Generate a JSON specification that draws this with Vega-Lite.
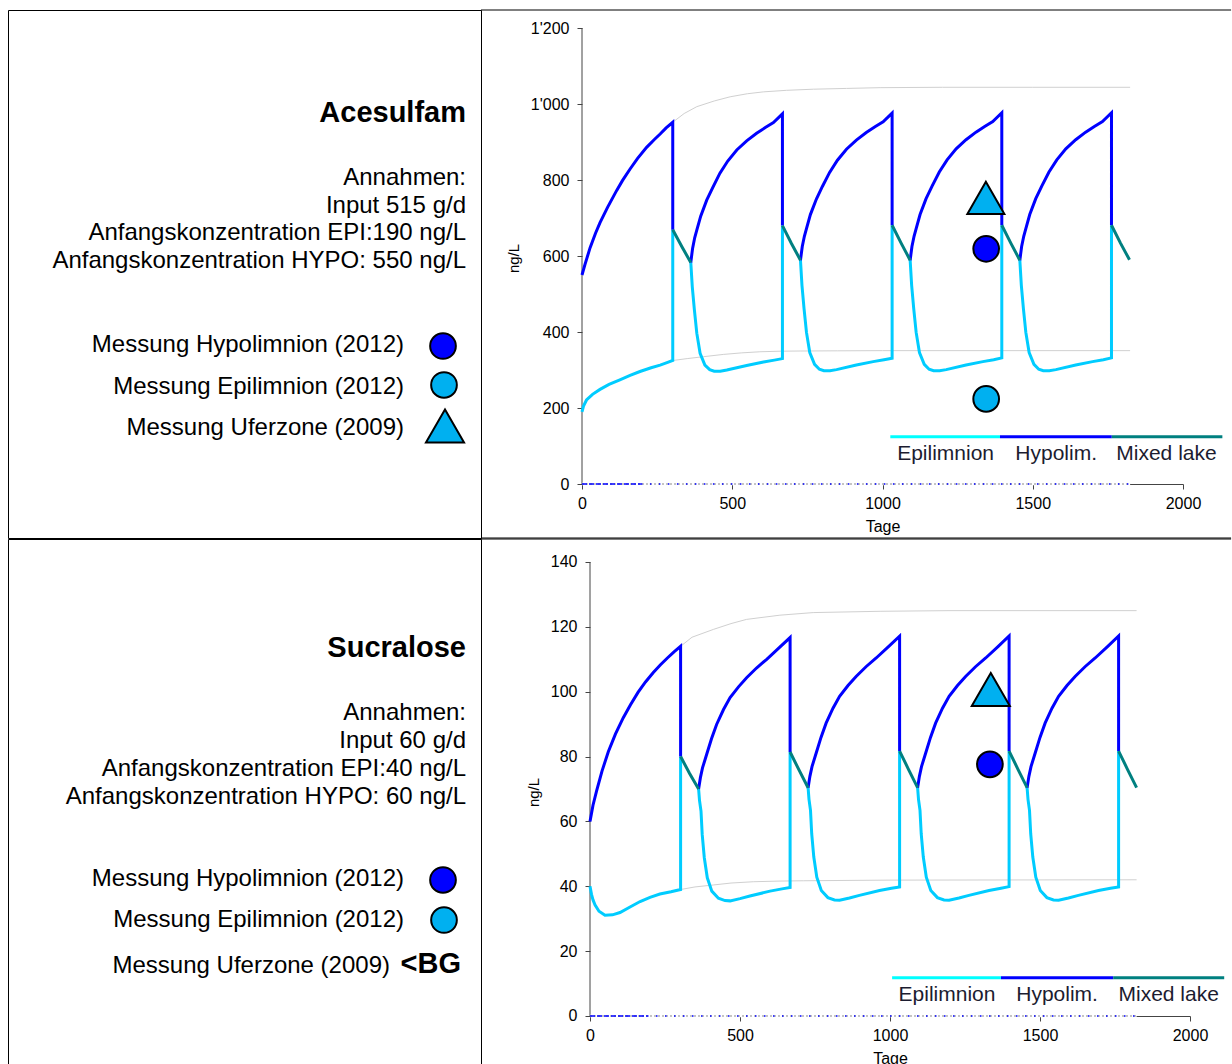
{
  "$schema": "https://vega.github.io/schema/vega-lite/v6.json",
  "padding": {"left": 7, "top": 9, "right": 0, "bottom": 0},
  "background": "white",
  "config": {"view": {"stroke": null}, "font": "Liberation Sans"},
  "spacing": -2,
  "datasets": {
    "ace": [
      {"s":"Epilimnion","g":1,"x":0,"y":190},{"s":"Epilimnion","g":1,"x":5,"y":205},{"s":"Epilimnion","g":1,"x":15,"y":221},{"s":"Epilimnion","g":1,"x":35,"y":236},{"s":"Epilimnion","g":1,"x":60,"y":249},{"s":"Epilimnion","g":1,"x":90,"y":262},{"s":"Epilimnion","g":1,"x":126,"y":274},{"s":"Epilimnion","g":1,"x":160,"y":286},{"s":"Epilimnion","g":1,"x":193,"y":296},{"s":"Epilimnion","g":1,"x":230,"y":306},{"s":"Epilimnion","g":1,"x":260,"y":313},{"s":"Epilimnion","g":1,"x":285,"y":320},{"s":"Epilimnion","g":1,"x":302,"y":325},{"s":"Epilimnion","g":1,"x":302,"y":669},
      {"s":"Epilimnion","g":2,"x":362,"y":583},{"s":"Epilimnion","g":2,"x":367,"y":519},{"s":"Epilimnion","g":2,"x":374,"y":458},{"s":"Epilimnion","g":2,"x":382,"y":397},{"s":"Epilimnion","g":2,"x":393,"y":344},{"s":"Epilimnion","g":2,"x":409,"y":313},{"s":"Epilimnion","g":2,"x":425,"y":301},{"s":"Epilimnion","g":2,"x":440,"y":297},{"s":"Epilimnion","g":2,"x":460,"y":297},{"s":"Epilimnion","g":2,"x":482,"y":300},{"s":"Epilimnion","g":2,"x":548,"y":312},{"s":"Epilimnion","g":2,"x":604,"y":321},{"s":"Epilimnion","g":2,"x":640,"y":326},{"s":"Epilimnion","g":2,"x":667,"y":330},{"s":"Epilimnion","g":2,"x":667,"y":680},
      {"s":"Epilimnion","g":3,"x":727,"y":589},{"s":"Epilimnion","g":3,"x":732,"y":523},{"s":"Epilimnion","g":3,"x":739,"y":461},{"s":"Epilimnion","g":3,"x":747,"y":399},{"s":"Epilimnion","g":3,"x":758,"y":346},{"s":"Epilimnion","g":3,"x":774,"y":315},{"s":"Epilimnion","g":3,"x":790,"y":302},{"s":"Epilimnion","g":3,"x":805,"y":298},{"s":"Epilimnion","g":3,"x":825,"y":298},{"s":"Epilimnion","g":3,"x":847,"y":301},{"s":"Epilimnion","g":3,"x":913,"y":313},{"s":"Epilimnion","g":3,"x":969,"y":322},{"s":"Epilimnion","g":3,"x":1005,"y":327},{"s":"Epilimnion","g":3,"x":1032,"y":331},{"s":"Epilimnion","g":3,"x":1032,"y":681},
      {"s":"Epilimnion","g":4,"x":1092,"y":589},{"s":"Epilimnion","g":4,"x":1097,"y":523},{"s":"Epilimnion","g":4,"x":1104,"y":461},{"s":"Epilimnion","g":4,"x":1112,"y":399},{"s":"Epilimnion","g":4,"x":1123,"y":346},{"s":"Epilimnion","g":4,"x":1139,"y":315},{"s":"Epilimnion","g":4,"x":1155,"y":302},{"s":"Epilimnion","g":4,"x":1170,"y":298},{"s":"Epilimnion","g":4,"x":1190,"y":298},{"s":"Epilimnion","g":4,"x":1212,"y":301},{"s":"Epilimnion","g":4,"x":1278,"y":313},{"s":"Epilimnion","g":4,"x":1334,"y":322},{"s":"Epilimnion","g":4,"x":1370,"y":327},{"s":"Epilimnion","g":4,"x":1397,"y":332},{"s":"Epilimnion","g":4,"x":1397,"y":681},
      {"s":"Epilimnion","g":5,"x":1457,"y":589},{"s":"Epilimnion","g":5,"x":1462,"y":523},{"s":"Epilimnion","g":5,"x":1469,"y":461},{"s":"Epilimnion","g":5,"x":1477,"y":399},{"s":"Epilimnion","g":5,"x":1488,"y":346},{"s":"Epilimnion","g":5,"x":1504,"y":315},{"s":"Epilimnion","g":5,"x":1520,"y":302},{"s":"Epilimnion","g":5,"x":1535,"y":298},{"s":"Epilimnion","g":5,"x":1555,"y":298},{"s":"Epilimnion","g":5,"x":1577,"y":301},{"s":"Epilimnion","g":5,"x":1643,"y":313},{"s":"Epilimnion","g":5,"x":1699,"y":322},{"s":"Epilimnion","g":5,"x":1735,"y":327},{"s":"Epilimnion","g":5,"x":1762,"y":332},{"s":"Epilimnion","g":5,"x":1762,"y":681},
      {"s":"Hypolim.","g":1,"x":0,"y":550},{"s":"Hypolim.","g":1,"x":10,"y":578},{"s":"Hypolim.","g":1,"x":27,"y":622},{"s":"Hypolim.","g":1,"x":45,"y":660},{"s":"Hypolim.","g":1,"x":60,"y":688},{"s":"Hypolim.","g":1,"x":85,"y":728},{"s":"Hypolim.","g":1,"x":115,"y":772},{"s":"Hypolim.","g":1,"x":135,"y":799},{"s":"Hypolim.","g":1,"x":160,"y":829},{"s":"Hypolim.","g":1,"x":185,"y":857},{"s":"Hypolim.","g":1,"x":215,"y":886},{"s":"Hypolim.","g":1,"x":240,"y":906},{"s":"Hypolim.","g":1,"x":260,"y":921},{"s":"Hypolim.","g":1,"x":280,"y":937},{"s":"Hypolim.","g":1,"x":302,"y":952},{"s":"Hypolim.","g":1,"x":302,"y":669},
      {"s":"Hypolim.","g":2,"x":362,"y":583},{"s":"Hypolim.","g":2,"x":368,"y":620},{"s":"Hypolim.","g":2,"x":375,"y":648},{"s":"Hypolim.","g":2,"x":382,"y":668},{"s":"Hypolim.","g":2,"x":395,"y":705},{"s":"Hypolim.","g":2,"x":415,"y":747},{"s":"Hypolim.","g":2,"x":435,"y":780},{"s":"Hypolim.","g":2,"x":459,"y":818},{"s":"Hypolim.","g":2,"x":485,"y":850},{"s":"Hypolim.","g":2,"x":515,"y":879},{"s":"Hypolim.","g":2,"x":548,"y":903},{"s":"Hypolim.","g":2,"x":581,"y":923},{"s":"Hypolim.","g":2,"x":610,"y":938},{"s":"Hypolim.","g":2,"x":637,"y":951},{"s":"Hypolim.","g":2,"x":667,"y":974},{"s":"Hypolim.","g":2,"x":667,"y":680},
      {"s":"Hypolim.","g":3,"x":727,"y":589},{"s":"Hypolim.","g":3,"x":733,"y":625},{"s":"Hypolim.","g":3,"x":740,"y":652},{"s":"Hypolim.","g":3,"x":747,"y":672},{"s":"Hypolim.","g":3,"x":760,"y":709},{"s":"Hypolim.","g":3,"x":780,"y":750},{"s":"Hypolim.","g":3,"x":800,"y":783},{"s":"Hypolim.","g":3,"x":824,"y":820},{"s":"Hypolim.","g":3,"x":850,"y":852},{"s":"Hypolim.","g":3,"x":880,"y":881},{"s":"Hypolim.","g":3,"x":913,"y":905},{"s":"Hypolim.","g":3,"x":946,"y":925},{"s":"Hypolim.","g":3,"x":975,"y":940},{"s":"Hypolim.","g":3,"x":1002,"y":953},{"s":"Hypolim.","g":3,"x":1032,"y":976},{"s":"Hypolim.","g":3,"x":1032,"y":681},
      {"s":"Hypolim.","g":4,"x":1092,"y":589},{"s":"Hypolim.","g":4,"x":1098,"y":625},{"s":"Hypolim.","g":4,"x":1105,"y":652},{"s":"Hypolim.","g":4,"x":1112,"y":672},{"s":"Hypolim.","g":4,"x":1125,"y":709},{"s":"Hypolim.","g":4,"x":1145,"y":751},{"s":"Hypolim.","g":4,"x":1165,"y":784},{"s":"Hypolim.","g":4,"x":1189,"y":821},{"s":"Hypolim.","g":4,"x":1215,"y":853},{"s":"Hypolim.","g":4,"x":1245,"y":882},{"s":"Hypolim.","g":4,"x":1278,"y":906},{"s":"Hypolim.","g":4,"x":1311,"y":926},{"s":"Hypolim.","g":4,"x":1340,"y":941},{"s":"Hypolim.","g":4,"x":1367,"y":954},{"s":"Hypolim.","g":4,"x":1397,"y":977},{"s":"Hypolim.","g":4,"x":1397,"y":681},
      {"s":"Hypolim.","g":5,"x":1457,"y":589},{"s":"Hypolim.","g":5,"x":1463,"y":625},{"s":"Hypolim.","g":5,"x":1470,"y":652},{"s":"Hypolim.","g":5,"x":1477,"y":672},{"s":"Hypolim.","g":5,"x":1490,"y":709},{"s":"Hypolim.","g":5,"x":1510,"y":751},{"s":"Hypolim.","g":5,"x":1530,"y":784},{"s":"Hypolim.","g":5,"x":1554,"y":821},{"s":"Hypolim.","g":5,"x":1580,"y":853},{"s":"Hypolim.","g":5,"x":1610,"y":882},{"s":"Hypolim.","g":5,"x":1643,"y":906},{"s":"Hypolim.","g":5,"x":1676,"y":926},{"s":"Hypolim.","g":5,"x":1705,"y":941},{"s":"Hypolim.","g":5,"x":1732,"y":954},{"s":"Hypolim.","g":5,"x":1762,"y":977},{"s":"Hypolim.","g":5,"x":1762,"y":681},
      {"s":"Mixed lake","g":1,"x":302,"y":669},{"s":"Mixed lake","g":1,"x":332,"y":625},{"s":"Mixed lake","g":1,"x":362,"y":583},
      {"s":"Mixed lake","g":2,"x":667,"y":680},{"s":"Mixed lake","g":2,"x":697,"y":633},{"s":"Mixed lake","g":2,"x":727,"y":589},
      {"s":"Mixed lake","g":3,"x":1032,"y":681},{"s":"Mixed lake","g":3,"x":1062,"y":634},{"s":"Mixed lake","g":3,"x":1092,"y":589},
      {"s":"Mixed lake","g":4,"x":1397,"y":681},{"s":"Mixed lake","g":4,"x":1427,"y":634},{"s":"Mixed lake","g":4,"x":1457,"y":589},
      {"s":"Mixed lake","g":5,"x":1762,"y":681},{"s":"Mixed lake","g":5,"x":1792,"y":634},{"s":"Mixed lake","g":5,"x":1822,"y":590},
      {"s":"Upper","g":1,"x":302,"y":952},{"s":"Upper","g":1,"x":340,"y":975},{"s":"Upper","g":1,"x":382,"y":993},{"s":"Upper","g":1,"x":440,"y":1008},{"s":"Upper","g":1,"x":493,"y":1019},{"s":"Upper","g":1,"x":550,"y":1027},{"s":"Upper","g":1,"x":604,"y":1032},{"s":"Upper","g":1,"x":680,"y":1036},{"s":"Upper","g":1,"x":770,"y":1039},{"s":"Upper","g":1,"x":880,"y":1041},{"s":"Upper","g":1,"x":992,"y":1043},{"s":"Upper","g":1,"x":1200,"y":1044},{"s":"Upper","g":1,"x":1500,"y":1044},{"s":"Upper","g":1,"x":1824,"y":1044},
      {"s":"Lower","g":1,"x":302,"y":325},{"s":"Lower","g":1,"x":350,"y":330},{"s":"Lower","g":1,"x":404,"y":335},{"s":"Lower","g":1,"x":470,"y":341},{"s":"Lower","g":1,"x":530,"y":345},{"s":"Lower","g":1,"x":592,"y":348},{"s":"Lower","g":1,"x":660,"y":349.5},{"s":"Lower","g":1,"x":726,"y":350},{"s":"Lower","g":1,"x":850,"y":350.5},{"s":"Lower","g":1,"x":1000,"y":351},{"s":"Lower","g":1,"x":1824,"y":351},
      {"s":"Zero","g":1,"x":0,"y":0},{"s":"Zero","g":1,"x":1824,"y":0},
      {"s":"ZeroDash","g":1,"x":0,"y":0},{"s":"ZeroDash","g":1,"x":196,"y":0},
      {"s":"ZeroDot","g":1,"x":196,"y":0},{"s":"ZeroDot","g":1,"x":1824,"y":0}
    ],
    "ace_pts": [
      {"m":"Hypolimnion (2012)","x":1345,"y":619},
      {"m":"Epilimnion (2012)","x":1345,"y":224},
      {"m":"Uferzone (2009)","x":1344,"y":753}
    ],
    "suc": [
      {"s":"Epilimnion","g":1,"x":0,"y":40},{"s":"Epilimnion","g":1,"x":5,"y":37.5},{"s":"Epilimnion","g":1,"x":10,"y":35.8},{"s":"Epilimnion","g":1,"x":17,"y":34.2},{"s":"Epilimnion","g":1,"x":30,"y":32.3},{"s":"Epilimnion","g":1,"x":50,"y":31.1},{"s":"Epilimnion","g":1,"x":75,"y":31.2},{"s":"Epilimnion","g":1,"x":100,"y":31.9},{"s":"Epilimnion","g":1,"x":135,"y":33.7},{"s":"Epilimnion","g":1,"x":167,"y":35.3},{"s":"Epilimnion","g":1,"x":200,"y":36.6},{"s":"Epilimnion","g":1,"x":233,"y":37.6},{"s":"Epilimnion","g":1,"x":270,"y":38.3},{"s":"Epilimnion","g":1,"x":302,"y":39},{"s":"Epilimnion","g":1,"x":302,"y":80},
      {"s":"Epilimnion","g":2,"x":362,"y":70},{"s":"Epilimnion","g":2,"x":365,"y":66.5},{"s":"Epilimnion","g":2,"x":370,"y":63.2},{"s":"Epilimnion","g":2,"x":374,"y":56},{"s":"Epilimnion","g":2,"x":381,"y":48.8},{"s":"Epilimnion","g":2,"x":391,"y":42.6},{"s":"Epilimnion","g":2,"x":406,"y":38.5},{"s":"Epilimnion","g":2,"x":428,"y":36.3},{"s":"Epilimnion","g":2,"x":450,"y":35.6},{"s":"Epilimnion","g":2,"x":467,"y":35.5},{"s":"Epilimnion","g":2,"x":500,"y":36.2},{"s":"Epilimnion","g":2,"x":533,"y":37},{"s":"Epilimnion","g":2,"x":600,"y":38.5},{"s":"Epilimnion","g":2,"x":640,"y":39.2},{"s":"Epilimnion","g":2,"x":667,"y":39.6},{"s":"Epilimnion","g":2,"x":667,"y":81.4},
      {"s":"Epilimnion","g":3,"x":727,"y":70.4},{"s":"Epilimnion","g":3,"x":730,"y":66.8},{"s":"Epilimnion","g":3,"x":735,"y":63.4},{"s":"Epilimnion","g":3,"x":739,"y":56.2},{"s":"Epilimnion","g":3,"x":746,"y":49},{"s":"Epilimnion","g":3,"x":756,"y":42.8},{"s":"Epilimnion","g":3,"x":771,"y":38.7},{"s":"Epilimnion","g":3,"x":793,"y":36.5},{"s":"Epilimnion","g":3,"x":815,"y":35.8},{"s":"Epilimnion","g":3,"x":832,"y":35.7},{"s":"Epilimnion","g":3,"x":865,"y":36.4},{"s":"Epilimnion","g":3,"x":898,"y":37.2},{"s":"Epilimnion","g":3,"x":965,"y":38.7},{"s":"Epilimnion","g":3,"x":1005,"y":39.4},{"s":"Epilimnion","g":3,"x":1032,"y":39.8},{"s":"Epilimnion","g":3,"x":1032,"y":81.7},
      {"s":"Epilimnion","g":4,"x":1092,"y":70.4},{"s":"Epilimnion","g":4,"x":1095,"y":66.8},{"s":"Epilimnion","g":4,"x":1100,"y":63.4},{"s":"Epilimnion","g":4,"x":1104,"y":56.2},{"s":"Epilimnion","g":4,"x":1111,"y":49},{"s":"Epilimnion","g":4,"x":1121,"y":42.8},{"s":"Epilimnion","g":4,"x":1136,"y":38.7},{"s":"Epilimnion","g":4,"x":1158,"y":36.5},{"s":"Epilimnion","g":4,"x":1180,"y":35.8},{"s":"Epilimnion","g":4,"x":1197,"y":35.7},{"s":"Epilimnion","g":4,"x":1230,"y":36.4},{"s":"Epilimnion","g":4,"x":1263,"y":37.2},{"s":"Epilimnion","g":4,"x":1330,"y":38.7},{"s":"Epilimnion","g":4,"x":1370,"y":39.4},{"s":"Epilimnion","g":4,"x":1397,"y":39.9},{"s":"Epilimnion","g":4,"x":1397,"y":81.7},
      {"s":"Epilimnion","g":5,"x":1457,"y":70.4},{"s":"Epilimnion","g":5,"x":1460,"y":66.8},{"s":"Epilimnion","g":5,"x":1465,"y":63.4},{"s":"Epilimnion","g":5,"x":1469,"y":56.2},{"s":"Epilimnion","g":5,"x":1476,"y":49},{"s":"Epilimnion","g":5,"x":1486,"y":42.8},{"s":"Epilimnion","g":5,"x":1501,"y":38.7},{"s":"Epilimnion","g":5,"x":1523,"y":36.5},{"s":"Epilimnion","g":5,"x":1545,"y":35.8},{"s":"Epilimnion","g":5,"x":1562,"y":35.7},{"s":"Epilimnion","g":5,"x":1595,"y":36.4},{"s":"Epilimnion","g":5,"x":1628,"y":37.2},{"s":"Epilimnion","g":5,"x":1695,"y":38.7},{"s":"Epilimnion","g":5,"x":1735,"y":39.4},{"s":"Epilimnion","g":5,"x":1762,"y":39.8},{"s":"Epilimnion","g":5,"x":1762,"y":81.7},
      {"s":"Hypolim.","g":1,"x":0,"y":60},{"s":"Hypolim.","g":1,"x":10,"y":65},{"s":"Hypolim.","g":1,"x":22,"y":69.4},{"s":"Hypolim.","g":1,"x":40,"y":75.5},{"s":"Hypolim.","g":1,"x":61,"y":81.5},{"s":"Hypolim.","g":1,"x":85,"y":87},{"s":"Hypolim.","g":1,"x":111,"y":92},{"s":"Hypolim.","g":1,"x":135,"y":96},{"s":"Hypolim.","g":1,"x":160,"y":99.8},{"s":"Hypolim.","g":1,"x":185,"y":103},{"s":"Hypolim.","g":1,"x":211,"y":105.9},{"s":"Hypolim.","g":1,"x":235,"y":108.3},{"s":"Hypolim.","g":1,"x":258,"y":110.4},{"s":"Hypolim.","g":1,"x":280,"y":112.3},{"s":"Hypolim.","g":1,"x":302,"y":114},{"s":"Hypolim.","g":1,"x":302,"y":80},
      {"s":"Hypolim.","g":2,"x":362,"y":70},{"s":"Hypolim.","g":2,"x":368,"y":73.5},{"s":"Hypolim.","g":2,"x":375,"y":76.5},{"s":"Hypolim.","g":2,"x":389,"y":80.7},{"s":"Hypolim.","g":2,"x":405,"y":85.5},{"s":"Hypolim.","g":2,"x":422,"y":89.9},{"s":"Hypolim.","g":2,"x":445,"y":94.5},{"s":"Hypolim.","g":2,"x":467,"y":98.2},{"s":"Hypolim.","g":2,"x":495,"y":101.5},{"s":"Hypolim.","g":2,"x":522,"y":104.3},{"s":"Hypolim.","g":2,"x":555,"y":107.3},{"s":"Hypolim.","g":2,"x":589,"y":110},{"s":"Hypolim.","g":2,"x":630,"y":113.5},{"s":"Hypolim.","g":2,"x":667,"y":116.7},{"s":"Hypolim.","g":2,"x":667,"y":81.4},
      {"s":"Hypolim.","g":3,"x":727,"y":70.4},{"s":"Hypolim.","g":3,"x":733,"y":73.9},{"s":"Hypolim.","g":3,"x":740,"y":76.9},{"s":"Hypolim.","g":3,"x":754,"y":81.1},{"s":"Hypolim.","g":3,"x":770,"y":85.9},{"s":"Hypolim.","g":3,"x":787,"y":90.3},{"s":"Hypolim.","g":3,"x":810,"y":94.9},{"s":"Hypolim.","g":3,"x":832,"y":98.6},{"s":"Hypolim.","g":3,"x":860,"y":101.9},{"s":"Hypolim.","g":3,"x":887,"y":104.7},{"s":"Hypolim.","g":3,"x":920,"y":107.7},{"s":"Hypolim.","g":3,"x":954,"y":110.4},{"s":"Hypolim.","g":3,"x":995,"y":113.9},{"s":"Hypolim.","g":3,"x":1032,"y":117.1},{"s":"Hypolim.","g":3,"x":1032,"y":81.7},
      {"s":"Hypolim.","g":4,"x":1092,"y":70.4},{"s":"Hypolim.","g":4,"x":1098,"y":73.9},{"s":"Hypolim.","g":4,"x":1105,"y":76.9},{"s":"Hypolim.","g":4,"x":1119,"y":81.1},{"s":"Hypolim.","g":4,"x":1135,"y":85.9},{"s":"Hypolim.","g":4,"x":1152,"y":90.3},{"s":"Hypolim.","g":4,"x":1175,"y":94.9},{"s":"Hypolim.","g":4,"x":1197,"y":98.6},{"s":"Hypolim.","g":4,"x":1225,"y":101.9},{"s":"Hypolim.","g":4,"x":1252,"y":104.7},{"s":"Hypolim.","g":4,"x":1285,"y":107.7},{"s":"Hypolim.","g":4,"x":1319,"y":110.4},{"s":"Hypolim.","g":4,"x":1360,"y":113.9},{"s":"Hypolim.","g":4,"x":1397,"y":117.2},{"s":"Hypolim.","g":4,"x":1397,"y":81.7},
      {"s":"Hypolim.","g":5,"x":1457,"y":70.4},{"s":"Hypolim.","g":5,"x":1463,"y":73.9},{"s":"Hypolim.","g":5,"x":1470,"y":76.9},{"s":"Hypolim.","g":5,"x":1484,"y":81.1},{"s":"Hypolim.","g":5,"x":1500,"y":85.9},{"s":"Hypolim.","g":5,"x":1517,"y":90.3},{"s":"Hypolim.","g":5,"x":1540,"y":94.9},{"s":"Hypolim.","g":5,"x":1562,"y":98.6},{"s":"Hypolim.","g":5,"x":1590,"y":101.9},{"s":"Hypolim.","g":5,"x":1617,"y":104.7},{"s":"Hypolim.","g":5,"x":1650,"y":107.7},{"s":"Hypolim.","g":5,"x":1684,"y":110.4},{"s":"Hypolim.","g":5,"x":1725,"y":113.9},{"s":"Hypolim.","g":5,"x":1762,"y":117.2},{"s":"Hypolim.","g":5,"x":1762,"y":81.7},
      {"s":"Mixed lake","g":1,"x":302,"y":80},{"s":"Mixed lake","g":1,"x":332,"y":74.8},{"s":"Mixed lake","g":1,"x":362,"y":70},
      {"s":"Mixed lake","g":2,"x":667,"y":81.4},{"s":"Mixed lake","g":2,"x":697,"y":75.8},{"s":"Mixed lake","g":2,"x":727,"y":70.4},
      {"s":"Mixed lake","g":3,"x":1032,"y":81.7},{"s":"Mixed lake","g":3,"x":1062,"y":76},{"s":"Mixed lake","g":3,"x":1092,"y":70.4},
      {"s":"Mixed lake","g":4,"x":1397,"y":81.7},{"s":"Mixed lake","g":4,"x":1427,"y":76},{"s":"Mixed lake","g":4,"x":1457,"y":70.4},
      {"s":"Mixed lake","g":5,"x":1762,"y":81.7},{"s":"Mixed lake","g":5,"x":1792,"y":76},{"s":"Mixed lake","g":5,"x":1822,"y":70.4},
      {"s":"Upper","g":1,"x":302,"y":114},{"s":"Upper","g":1,"x":340,"y":116.8},{"s":"Upper","g":1,"x":411,"y":119.2},{"s":"Upper","g":1,"x":470,"y":121},{"s":"Upper","g":1,"x":522,"y":122.3},{"s":"Upper","g":1,"x":633,"y":123.6},{"s":"Upper","g":1,"x":744,"y":124.4},{"s":"Upper","g":1,"x":967,"y":124.8},{"s":"Upper","g":1,"x":1200,"y":125},{"s":"Upper","g":1,"x":1822,"y":125},
      {"s":"Lower","g":1,"x":302,"y":39},{"s":"Lower","g":1,"x":350,"y":39.8},{"s":"Lower","g":1,"x":411,"y":40.4},{"s":"Lower","g":1,"x":470,"y":41},{"s":"Lower","g":1,"x":544,"y":41.4},{"s":"Lower","g":1,"x":630,"y":41.6},{"s":"Lower","g":1,"x":711,"y":41.7},{"s":"Lower","g":1,"x":1000,"y":41.9},{"s":"Lower","g":1,"x":1822,"y":42},
      {"s":"Zero","g":1,"x":0,"y":0},{"s":"Zero","g":1,"x":1822,"y":0},
      {"s":"ZeroDash","g":1,"x":0,"y":0},{"s":"ZeroDash","g":1,"x":190,"y":0},
      {"s":"ZeroDot","g":1,"x":190,"y":0},{"s":"ZeroDot","g":1,"x":1822,"y":0}
    ],
    "suc_pts": [
      {"m":"Hypolimnion (2012)","x":1333,"y":77.6},
      {"m":"Uferzone (2009)","x":1336,"y":100.7}
    ],
    "leg_ace": [
      {"s":"Epilimnion","a":1026,"b":1391,"c":1210},
      {"s":"Hypolim.","a":1391,"b":1763,"c":1578},
      {"s":"Mixed lake","a":1763,"b":2131,"c":1945}
    ],
    "leg_suc": [
      {"s":"Epilimnion","a":1007,"b":1370,"c":1190},
      {"s":"Hypolim.","a":1370,"b":1744,"c":1557},
      {"s":"Mixed lake","a":1744,"b":2114,"c":1929}
    ]
  },
  "vconcat": [
    {
      "spacing": -2,
      "hconcat": [
        {
          "width": 473, "height": 528,
          "view": {"stroke": "black", "strokeWidth": 1},
          "layer": [
            {"data": {"values": [{"t": "Acesulfam"}]},
             "mark": {"type": "text", "align": "right", "baseline": "middle", "dx": -15, "fontSize": 29, "fontWeight": "bold", "color": "black"},
             "encoding": {"x": {"value": "width"}, "y": {"datum": 19.51, "type": "quantitative", "scale": {"domain": [0, 100], "reverse": true}, "axis": null}, "text": {"field": "t"}}},
            {"data": {"values": [{"t": "Annahmen:\nInput 515 g/d\nAnfangskonzentration EPI:190 ng/L\nAnfangskonzentration HYPO: 550 ng/L"}]},
             "mark": {"type": "text", "align": "right", "baseline": "middle", "dx": -15, "fontSize": 24, "lineBreak": "\n", "lineHeight": 27.7, "color": "black"},
             "encoding": {"x": {"value": "width"}, "y": {"datum": 31.82, "type": "quantitative", "scale": {"domain": [0, 100], "reverse": true}, "axis": null}, "text": {"field": "t"}}},
            {"data": {"values": [{"t": "Messung Hypolimnion (2012)\nMessung Epilimnion (2012)\nMessung Uferzone (2009)"}]},
             "mark": {"type": "text", "align": "right", "baseline": "middle", "dx": -77, "fontSize": 24, "lineBreak": "\n", "lineHeight": 41.5, "color": "black"},
             "encoding": {"x": {"value": "width"}, "y": {"datum": 63.45, "type": "quantitative", "scale": {"domain": [0, 100], "reverse": true}, "axis": null}, "text": {"field": "t"}}},
            {"data": {"values": [{"m": "Hypolimnion (2012)"}]},
             "mark": {"type": "point", "shape": "circle", "filled": true, "fill": "#0000FF", "stroke": "black", "strokeWidth": 2, "size": 660, "opacity": 1, "xOffset": -38},
             "encoding": {"x": {"value": "width"}, "y": {"datum": 63.64, "type": "quantitative", "scale": {"domain": [0, 100], "reverse": true}, "axis": null}}},
            {"data": {"values": [{"m": "Epilimnion (2012)"}]},
             "mark": {"type": "point", "shape": "circle", "filled": true, "fill": "#00B0F0", "stroke": "black", "strokeWidth": 2, "size": 660, "opacity": 1, "xOffset": -37},
             "encoding": {"x": {"value": "width"}, "y": {"datum": 71.02, "type": "quantitative", "scale": {"domain": [0, 100], "reverse": true}, "axis": null}}},
            {"data": {"values": [{"m": "Uferzone (2009)"}]},
             "mark": {"type": "point", "shape": "triangle-up", "filled": true, "fill": "#00B0F0", "stroke": "black", "strokeWidth": 2, "size": 1450, "opacity": 1, "xOffset": -36},
             "encoding": {"x": {"value": "width"}, "y": {"datum": 78.79, "type": "quantitative", "scale": {"domain": [0, 100], "reverse": true}, "axis": null}}}
          ]
        },
        {
          "width": 601, "height": 528,
          "data": {"name": "ace"},
          "layer": [
            {"data": {"values": [{}]}, "mark": {"type": "rule", "color": "black", "strokeWidth": 1},
             "encoding": {"x": {"datum": -336.2, "type": "quantitative", "scale": {"domain": [0, 2000], "nice": false, "zero": false}}, "x2": {"datum": 2160},
                          "y": {"datum": 1247.4, "type": "quantitative", "scale": {"domain": [-142.1, 1247.4], "nice": false, "zero": false}}}},
            {"data": {"values": [{}]}, "mark": {"type": "rule", "color": "black", "strokeWidth": 1},
             "encoding": {"x": {"datum": -336.2, "type": "quantitative", "scale": {"domain": [0, 2000], "nice": false, "zero": false}}, "x2": {"datum": 2160},
                          "y": {"datum": -142.1, "type": "quantitative", "scale": {"domain": [-142.1, 1247.4], "nice": false, "zero": false}}}},
            {"data": {"values": [{}]}, "mark": {"type": "rule", "color": "#444", "strokeWidth": 1},
             "encoding": {"x": {"datum": 0, "type": "quantitative", "scale": {"domain": [0, 2000], "nice": false, "zero": false}},
                          "y": {"datum": 0, "type": "quantitative", "scale": {"domain": [-142.1, 1247.4], "nice": false, "zero": false}}, "y2": {"datum": 1200}}},
            {"transform": [{"filter": "datum.s === 'Upper' || datum.s === 'Lower'"}],
             "mark": {"type": "line", "color": "#d0d0d0", "strokeWidth": 1},
             "encoding": {
               "x": {"field": "x", "type": "quantitative", "scale": {"domain": [0, 2000], "nice": false, "zero": false},
                     "axis": {"title": "Tage", "values": [0, 500, 1000, 1500, 2000], "format": "d", "offset": -54, "grid": false, "labelFontSize": 16, "titleFontSize": 16, "titleFontWeight": "normal", "labelColor": "black", "titleColor": "black", "domainColor": "#444", "tickColor": "#444", "tickSize": 5, "labelPadding": 6, "titlePadding": 7, "labelFlush": false, "labelOverlap": false, "encode": {"ticks": {"update": {"y": {"value": -6}}}}}},
               "y": {"field": "y", "type": "quantitative", "scale": {"domain": [-142.1, 1247.4], "nice": false, "zero": false},
                     "axis": {"title": "ng/L", "values": [0, 200, 400, 600, 800, 1000, 1200], "labelExpr": "replace(format(datum.value, ','), ',', \"'\")", "domain": false, "grid": false, "labelFontSize": 16, "titleFontSize": 15, "titleFontWeight": "normal", "labelColor": "black", "titleColor": "black", "tickColor": "#444", "tickSize": 5, "labelPadding": 8, "titlePadding": 9, "titleY": 248, "labelFlush": false, "labelOverlap": false, "encode": {"ticks": {"update": {"x": {"value": 6}}}}}},
               "detail": {"field": "s"}, "order": {"value": null}}},
            {"transform": [{"filter": "datum.s === 'Zero'"}],
             "mark": {"type": "line", "color": "white", "strokeWidth": 2.5},
             "encoding": {"x": {"field": "x", "type": "quantitative", "scale": {"domain": [0, 2000], "nice": false, "zero": false}}, "y": {"field": "y", "type": "quantitative", "scale": {"domain": [-142.1, 1247.4], "nice": false, "zero": false}}, "order": {"value": null}}},
            {"transform": [{"filter": "datum.s === 'Zero'"}],
             "mark": {"type": "line", "color": "#8a8a8a", "strokeWidth": 1, "strokeDash": [2, 2]},
             "encoding": {"x": {"field": "x", "type": "quantitative", "scale": {"domain": [0, 2000], "nice": false, "zero": false}}, "y": {"field": "y", "type": "quantitative", "scale": {"domain": [-142.1, 1247.4], "nice": false, "zero": false}}, "order": {"value": null}}},
            {"transform": [{"filter": "datum.s === 'ZeroDash'"}],
             "mark": {"type": "line", "color": "#0000FF", "strokeWidth": 1.5, "strokeDash": [5, 2]},
             "encoding": {"x": {"field": "x", "type": "quantitative", "scale": {"domain": [0, 2000], "nice": false, "zero": false}}, "y": {"field": "y", "type": "quantitative", "scale": {"domain": [-142.1, 1247.4], "nice": false, "zero": false}}, "order": {"value": null}}},
            {"transform": [{"filter": "datum.s === 'ZeroDot'"}],
             "mark": {"type": "line", "color": "#0000FF", "strokeWidth": 1.5, "strokeDash": [1.5, 7.5]},
             "encoding": {"x": {"field": "x", "type": "quantitative", "scale": {"domain": [0, 2000], "nice": false, "zero": false}}, "y": {"field": "y", "type": "quantitative", "scale": {"domain": [-142.1, 1247.4], "nice": false, "zero": false}}, "order": {"value": null}}},
            {"transform": [{"filter": "datum.s === 'Epilimnion'"}],
             "mark": {"type": "line", "color": "#00CCFF", "strokeWidth": 3},
             "encoding": {"x": {"field": "x", "type": "quantitative", "scale": {"domain": [0, 2000], "nice": false, "zero": false}}, "y": {"field": "y", "type": "quantitative", "scale": {"domain": [-142.1, 1247.4], "nice": false, "zero": false}}, "detail": {"field": "g"}, "order": {"value": null}}},
            {"transform": [{"filter": "datum.s === 'Hypolim.'"}],
             "mark": {"type": "line", "color": "#0000FF", "strokeWidth": 3},
             "encoding": {"x": {"field": "x", "type": "quantitative", "scale": {"domain": [0, 2000], "nice": false, "zero": false}}, "y": {"field": "y", "type": "quantitative", "scale": {"domain": [-142.1, 1247.4], "nice": false, "zero": false}}, "detail": {"field": "g"}, "order": {"value": null}}},
            {"transform": [{"filter": "datum.s === 'Mixed lake'"}],
             "mark": {"type": "line", "color": "#008080", "strokeWidth": 3},
             "encoding": {"x": {"field": "x", "type": "quantitative", "scale": {"domain": [0, 2000], "nice": false, "zero": false}}, "y": {"field": "y", "type": "quantitative", "scale": {"domain": [-142.1, 1247.4], "nice": false, "zero": false}}, "detail": {"field": "g"}, "order": {"value": null}}},
            {"data": {"name": "ace_pts"},
             "transform": [{"filter": "datum.m !== 'Uferzone (2009)'"}],
             "mark": {"type": "point", "shape": "circle", "filled": true, "stroke": "black", "strokeWidth": 2, "size": 660, "opacity": 1},
             "encoding": {"x": {"field": "x", "type": "quantitative", "scale": {"domain": [0, 2000], "nice": false, "zero": false}}, "y": {"field": "y", "type": "quantitative", "scale": {"domain": [-142.1, 1247.4], "nice": false, "zero": false}},
                          "fill": {"field": "m", "type": "nominal", "scale": {"domain": ["Hypolimnion (2012)", "Epilimnion (2012)"], "range": ["#0000FF", "#00B0F0"]}, "legend": null}}},
            {"data": {"name": "ace_pts"},
             "transform": [{"filter": "datum.m === 'Uferzone (2009)'"}],
             "mark": {"type": "point", "shape": "triangle-up", "filled": true, "fill": "#00B0F0", "stroke": "black", "strokeWidth": 2, "size": 1369, "opacity": 1},
             "encoding": {"x": {"field": "x", "type": "quantitative", "scale": {"domain": [0, 2000], "nice": false, "zero": false}}, "y": {"field": "y", "type": "quantitative", "scale": {"domain": [-142.1, 1247.4], "nice": false, "zero": false}}}},
            {"data": {"name": "leg_ace"},
             "mark": {"type": "rule", "strokeWidth": 3},
             "encoding": {"x": {"field": "a", "type": "quantitative", "scale": {"domain": [0, 2000], "nice": false, "zero": false}}, "x2": {"field": "b"},
                          "y": {"datum": 124.5, "type": "quantitative", "scale": {"domain": [-142.1, 1247.4], "nice": false, "zero": false}},
                          "stroke": {"field": "s", "type": "nominal", "scale": {"domain": ["Epilimnion", "Hypolim.", "Mixed lake"], "range": ["#00FFFF", "#0000FF", "#008080"]}, "legend": null}}},
            {"data": {"name": "leg_ace"},
             "mark": {"type": "text", "align": "center", "baseline": "middle", "fontSize": 21, "color": "#1c1c30"},
             "encoding": {"x": {"field": "c", "type": "quantitative", "scale": {"domain": [0, 2000], "nice": false, "zero": false}},
                          "y": {"datum": 79, "type": "quantitative", "scale": {"domain": [-142.1, 1247.4], "nice": false, "zero": false}}, "text": {"field": "s"}}}
          ]
        }
      ]
    },
    {
      "spacing": -2,
      "hconcat": [
        {
          "width": 473, "height": 528,
          "view": {"stroke": "black", "strokeWidth": 1},
          "layer": [
            {"data": {"values": [{"t": "Sucralose"}]},
             "mark": {"type": "text", "align": "right", "baseline": "middle", "dx": -15, "fontSize": 29, "fontWeight": "bold", "color": "black"},
             "encoding": {"x": {"value": "width"}, "y": {"datum": 20.64, "type": "quantitative", "scale": {"domain": [0, 100], "reverse": true}, "axis": null}, "text": {"field": "t"}}},
            {"data": {"values": [{"t": "Annahmen:\nInput 60 g/d\nAnfangskonzentration EPI:40 ng/L\nAnfangskonzentration HYPO: 60 ng/L"}]},
             "mark": {"type": "text", "align": "right", "baseline": "middle", "dx": -15, "fontSize": 24, "lineBreak": "\n", "lineHeight": 28, "color": "black"},
             "encoding": {"x": {"value": "width"}, "y": {"datum": 32.95, "type": "quantitative", "scale": {"domain": [0, 100], "reverse": true}, "axis": null}, "text": {"field": "t"}}},
            {"data": {"values": [{"t": "Messung Hypolimnion (2012)\nMessung Epilimnion (2012)"}]},
             "mark": {"type": "text", "align": "right", "baseline": "middle", "dx": -77, "fontSize": 24, "lineBreak": "\n", "lineHeight": 41, "color": "black"},
             "encoding": {"x": {"value": "width"}, "y": {"datum": 64.39, "type": "quantitative", "scale": {"domain": [0, 100], "reverse": true}, "axis": null}, "text": {"field": "t"}}},
            {"data": {"values": [{"t": "Messung Uferzone (2009)"}]},
             "mark": {"type": "text", "align": "right", "baseline": "alphabetic", "dx": -91, "fontSize": 24, "color": "black"},
             "encoding": {"x": {"value": "width"}, "y": {"datum": 82.2, "type": "quantitative", "scale": {"domain": [0, 100], "reverse": true}, "axis": null}, "text": {"field": "t"}}},
            {"data": {"values": [{"t": "<BG"}]},
             "mark": {"type": "text", "align": "right", "baseline": "alphabetic", "dx": -20, "fontSize": 29, "fontWeight": "bold", "color": "black"},
             "encoding": {"x": {"value": "width"}, "y": {"datum": 82.2, "type": "quantitative", "scale": {"domain": [0, 100], "reverse": true}, "axis": null}, "text": {"field": "t"}}},
            {"data": {"values": [{"m": "Hypolimnion (2012)"}]},
             "mark": {"type": "point", "shape": "circle", "filled": true, "fill": "#0000FF", "stroke": "black", "strokeWidth": 2, "size": 660, "opacity": 1, "xOffset": -38},
             "encoding": {"x": {"value": "width"}, "y": {"datum": 64.58, "type": "quantitative", "scale": {"domain": [0, 100], "reverse": true}, "axis": null}}},
            {"data": {"values": [{"m": "Epilimnion (2012)"}]},
             "mark": {"type": "point", "shape": "circle", "filled": true, "fill": "#00B0F0", "stroke": "black", "strokeWidth": 2, "size": 660, "opacity": 1, "xOffset": -37},
             "encoding": {"x": {"value": "width"}, "y": {"datum": 72.16, "type": "quantitative", "scale": {"domain": [0, 100], "reverse": true}, "axis": null}}}
          ]
        },
        {
          "width": 600, "height": 528,
          "data": {"name": "suc"},
          "layer": [
            {"data": {"values": [{}]}, "mark": {"type": "rule", "color": "black", "strokeWidth": 1},
             "encoding": {"x": {"datum": -363.3, "type": "quantitative", "scale": {"domain": [0, 2000], "nice": false, "zero": false}}, "x2": {"datum": 2137},
                          "y": {"datum": 147.09, "type": "quantitative", "scale": {"domain": [-15.73, 147.09], "nice": false, "zero": false}}}},
            {"data": {"values": [{}]}, "mark": {"type": "rule", "color": "#444", "strokeWidth": 1},
             "encoding": {"x": {"datum": 0, "type": "quantitative", "scale": {"domain": [0, 2000], "nice": false, "zero": false}},
                          "y": {"datum": 0, "type": "quantitative", "scale": {"domain": [-15.73, 147.09], "nice": false, "zero": false}}, "y2": {"datum": 140}}},
            {"transform": [{"filter": "datum.s === 'Upper' || datum.s === 'Lower'"}],
             "mark": {"type": "line", "color": "#d0d0d0", "strokeWidth": 1},
             "encoding": {
               "x": {"field": "x", "type": "quantitative", "scale": {"domain": [0, 2000], "nice": false, "zero": false},
                     "axis": {"title": "Tage", "values": [0, 500, 1000, 1500, 2000], "format": "d", "offset": -51, "grid": false, "labelFontSize": 16, "titleFontSize": 16, "titleFontWeight": "normal", "labelColor": "black", "titleColor": "black", "domainColor": "#444", "tickColor": "#444", "tickSize": 5, "labelPadding": 6, "titlePadding": 7, "labelFlush": false, "labelOverlap": false, "encode": {"ticks": {"update": {"y": {"value": -6}}}}}},
               "y": {"field": "y", "type": "quantitative", "scale": {"domain": [-15.73, 147.09], "nice": false, "zero": false},
                     "axis": {"title": "ng/L", "values": [0, 20, 40, 60, 80, 100, 120, 140], "domain": false, "grid": false, "labelFontSize": 16, "titleFontSize": 15, "titleFontWeight": "normal", "labelColor": "black", "titleColor": "black", "tickColor": "#444", "tickSize": 5, "labelPadding": 8, "titlePadding": 9, "titleY": 253, "labelFlush": false, "labelOverlap": false, "encode": {"ticks": {"update": {"x": {"value": 6}}}}}},
               "detail": {"field": "s"}, "order": {"value": null}}},
            {"transform": [{"filter": "datum.s === 'Zero'"}],
             "mark": {"type": "line", "color": "white", "strokeWidth": 2.5},
             "encoding": {"x": {"field": "x", "type": "quantitative", "scale": {"domain": [0, 2000], "nice": false, "zero": false}}, "y": {"field": "y", "type": "quantitative", "scale": {"domain": [-15.73, 147.09], "nice": false, "zero": false}}, "order": {"value": null}}},
            {"transform": [{"filter": "datum.s === 'Zero'"}],
             "mark": {"type": "line", "color": "#8a8a8a", "strokeWidth": 1, "strokeDash": [2, 2]},
             "encoding": {"x": {"field": "x", "type": "quantitative", "scale": {"domain": [0, 2000], "nice": false, "zero": false}}, "y": {"field": "y", "type": "quantitative", "scale": {"domain": [-15.73, 147.09], "nice": false, "zero": false}}, "order": {"value": null}}},
            {"transform": [{"filter": "datum.s === 'ZeroDash'"}],
             "mark": {"type": "line", "color": "#0000FF", "strokeWidth": 1.5, "strokeDash": [5, 2]},
             "encoding": {"x": {"field": "x", "type": "quantitative", "scale": {"domain": [0, 2000], "nice": false, "zero": false}}, "y": {"field": "y", "type": "quantitative", "scale": {"domain": [-15.73, 147.09], "nice": false, "zero": false}}, "order": {"value": null}}},
            {"transform": [{"filter": "datum.s === 'ZeroDot'"}],
             "mark": {"type": "line", "color": "#0000FF", "strokeWidth": 1.5, "strokeDash": [1.5, 7.5]},
             "encoding": {"x": {"field": "x", "type": "quantitative", "scale": {"domain": [0, 2000], "nice": false, "zero": false}}, "y": {"field": "y", "type": "quantitative", "scale": {"domain": [-15.73, 147.09], "nice": false, "zero": false}}, "order": {"value": null}}},
            {"transform": [{"filter": "datum.s === 'Epilimnion'"}],
             "mark": {"type": "line", "color": "#00CCFF", "strokeWidth": 3},
             "encoding": {"x": {"field": "x", "type": "quantitative", "scale": {"domain": [0, 2000], "nice": false, "zero": false}}, "y": {"field": "y", "type": "quantitative", "scale": {"domain": [-15.73, 147.09], "nice": false, "zero": false}}, "detail": {"field": "g"}, "order": {"value": null}}},
            {"transform": [{"filter": "datum.s === 'Hypolim.'"}],
             "mark": {"type": "line", "color": "#0000FF", "strokeWidth": 3},
             "encoding": {"x": {"field": "x", "type": "quantitative", "scale": {"domain": [0, 2000], "nice": false, "zero": false}}, "y": {"field": "y", "type": "quantitative", "scale": {"domain": [-15.73, 147.09], "nice": false, "zero": false}}, "detail": {"field": "g"}, "order": {"value": null}}},
            {"transform": [{"filter": "datum.s === 'Mixed lake'"}],
             "mark": {"type": "line", "color": "#008080", "strokeWidth": 3},
             "encoding": {"x": {"field": "x", "type": "quantitative", "scale": {"domain": [0, 2000], "nice": false, "zero": false}}, "y": {"field": "y", "type": "quantitative", "scale": {"domain": [-15.73, 147.09], "nice": false, "zero": false}}, "detail": {"field": "g"}, "order": {"value": null}}},
            {"data": {"name": "suc_pts"},
             "transform": [{"filter": "datum.m !== 'Uferzone (2009)'"}],
             "mark": {"type": "point", "shape": "circle", "filled": true, "stroke": "black", "strokeWidth": 2, "size": 660, "opacity": 1},
             "encoding": {"x": {"field": "x", "type": "quantitative", "scale": {"domain": [0, 2000], "nice": false, "zero": false}}, "y": {"field": "y", "type": "quantitative", "scale": {"domain": [-15.73, 147.09], "nice": false, "zero": false}},
                          "fill": {"field": "m", "type": "nominal", "scale": {"domain": ["Hypolimnion (2012)", "Epilimnion (2012)"], "range": ["#0000FF", "#00B0F0"]}, "legend": null}}},
            {"data": {"name": "suc_pts"},
             "transform": [{"filter": "datum.m === 'Uferzone (2009)'"}],
             "mark": {"type": "point", "shape": "triangle-up", "filled": true, "fill": "#00B0F0", "stroke": "black", "strokeWidth": 2, "size": 1450, "opacity": 1},
             "encoding": {"x": {"field": "x", "type": "quantitative", "scale": {"domain": [0, 2000], "nice": false, "zero": false}}, "y": {"field": "y", "type": "quantitative", "scale": {"domain": [-15.73, 147.09], "nice": false, "zero": false}}}},
            {"data": {"name": "leg_suc"},
             "mark": {"type": "rule", "strokeWidth": 3},
             "encoding": {"x": {"field": "a", "type": "quantitative", "scale": {"domain": [0, 2000], "nice": false, "zero": false}}, "x2": {"field": "b"},
                          "y": {"datum": 11.8, "type": "quantitative", "scale": {"domain": [-15.73, 147.09], "nice": false, "zero": false}},
                          "stroke": {"field": "s", "type": "nominal", "scale": {"domain": ["Epilimnion", "Hypolim.", "Mixed lake"], "range": ["#00FFFF", "#0000FF", "#008080"]}, "legend": null}}},
            {"data": {"name": "leg_suc"},
             "mark": {"type": "text", "align": "center", "baseline": "middle", "fontSize": 21, "color": "#1c1c30"},
             "encoding": {"x": {"field": "c", "type": "quantitative", "scale": {"domain": [0, 2000], "nice": false, "zero": false}},
                          "y": {"datum": 6.5, "type": "quantitative", "scale": {"domain": [-15.73, 147.09], "nice": false, "zero": false}}, "text": {"field": "s"}}}
          ]
        }
      ]
    }
  ]
}
